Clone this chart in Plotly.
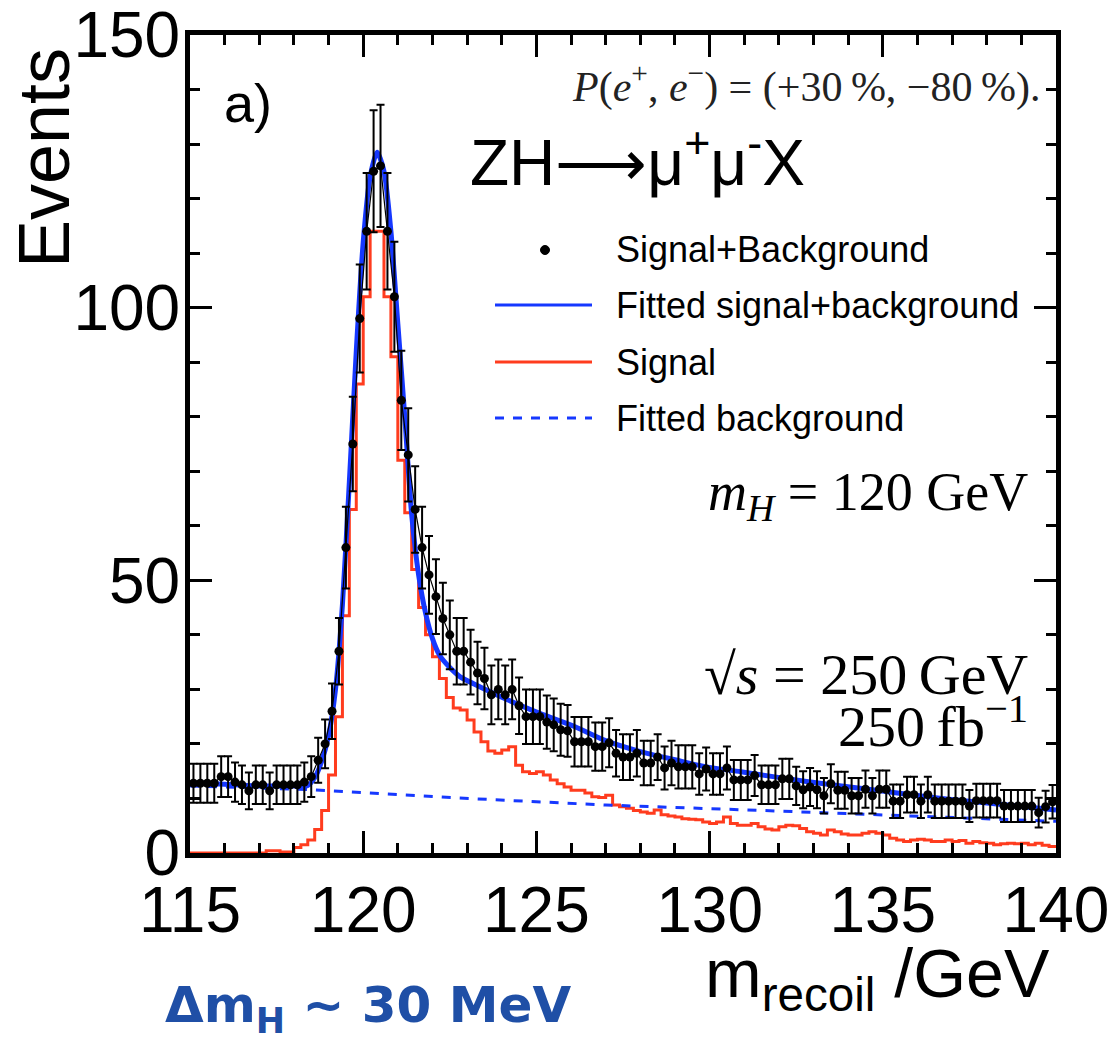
import numpy as np
import plotly.graph_objects as go

# ---------------- data ----------------
bin_low, bin_high, bin_width = 115.0, 140.0, 0.2

data_counts = [
    12.8, 12.8, 12.8, 12.8, 14.0, 14.0, 13.0, 12.5, 11.4, 12.5,
    12.5, 11.4, 12.5, 12.5, 12.5, 12.5, 13.0, 14.0, 17.0, 20.0,
    26.0, 37.0, 56.0, 75.0, 98.0, 114.0, 125.0, 126.0, 114.0, 102.0,
    83.0, 73.0, 63.0, 56.0, 51.0, 47.0, 43.0, 40.0, 37.0, 37.0,
    35.0, 33.0, 32.0, 29.0, 30.0, 29.0, 30.0, 27.0, 25.0, 25.0,
    25.0, 24.0, 23.5, 22.6, 22.4, 20.4, 20.4, 20.4, 19.5, 19.5,
    20.2, 18.3, 17.6, 17.6, 18.3, 16.5, 16.5, 17.6, 15.6, 16.5,
    15.8, 15.8, 15.8, 14.5, 15.4, 14.5, 14.5, 15.6, 13.4, 13.4,
    13.4, 14.2, 12.5, 12.5, 12.5, 13.6, 13.6, 12.3, 11.6, 12.1,
    11.6, 10.5, 12.7, 11.5, 11.5, 10.5, 10.5, 11.7, 10.5, 11.7,
    11.7, 9.5, 9.5, 10.7, 10.7, 9.5, 10.7, 9.5, 9.5, 9.5,
    9.5, 9.5, 8.6, 9.6, 9.6, 9.6, 9.6, 8.6, 8.6, 8.6,
    8.6, 8.6, 7.4, 8.5, 9.4,
]

signal_counts = [
    0, 0, 0, 0, 0, 0, 0, 0, 0, 0,
    0, 0.4, 0.4, 0.2, 0.2, 1.0, 1.5, 2.4, 4.3, 7.8,
    14.3, 25.0, 43.5, 63.0, 86.0, 102.0, 114.0, 114.0, 102.0, 91.0,
    72.0, 62.4, 52.0, 45.0, 40.0, 36.0, 32.0, 28.5, 26.6, 26.2,
    24.4, 22.2, 20.4, 18.7, 18.3, 18.9, 19.5, 16.1, 14.9, 14.6,
    14.9, 14.3, 13.4, 12.7, 12.1, 11.5, 11.5, 11.0, 10.3, 10.2,
    10.6, 8.8, 8.5, 8.2, 7.8, 7.5, 7.3, 7.9, 7.0, 6.8,
    6.6, 6.3, 6.2, 6.1, 5.7, 5.4, 5.7, 6.6, 5.4, 5.1,
    5.1, 5.4, 4.8, 4.4, 4.2, 4.8, 5.1, 5.0, 4.5, 3.9,
    3.6, 3.3, 4.2, 3.9, 3.5, 3.3, 3.3, 3.6, 3.9, 3.6,
    3.3, 2.7, 2.4, 2.1, 2.4, 2.5, 2.4, 2.1, 2.1, 2.4,
    2.1, 2.3, 1.8, 2.1, 1.9, 1.8, 1.5, 1.7, 1.8, 1.7,
    1.8, 1.5, 1.8, 1.4, 1.2,
]

fit_x = [115.0, 116.0, 117.0, 118.0, 118.4, 118.6, 118.8, 119.0, 119.2, 119.4,
         119.6, 119.8, 120.0, 120.2, 120.4, 120.6, 120.8, 121.0, 121.2, 121.4,
         121.6, 121.8, 122.0, 122.2, 122.5, 122.8, 123.2, 124.2, 125.1, 126.1,
         127.0, 128.0, 129.0, 129.9, 130.9, 132.8, 134.7, 136.7, 138.6, 140.0]
fit_y = [12.9, 12.6, 12.3, 12.3, 12.4, 13.8, 16.8, 21.5, 30.0, 45.5,
         68.0, 92.0, 112.0, 124.0, 128.5, 125.0, 114.0, 97.0, 80.0, 62.0,
         51.0, 44.0, 39.3, 36.3, 34.0, 32.3, 31.0, 28.0, 25.6, 23.2,
         20.6, 18.6, 17.1, 15.8, 14.9, 13.1, 11.6, 10.0, 8.8, 7.9]

bkg_x = [115.0, 118.5, 122.7, 127.0, 131.5, 135.5, 140.0]
bkg_y = [12.3, 11.6, 10.1, 8.8, 7.8, 6.8, 5.8]

x_tick_vals = [115, 120, 125, 130, 135, 140]
y_tick_vals = [0, 50, 100, 150]

# ---------------- derived ----------------
n_bins = int(round((bin_high - bin_low) / bin_width))
assert len(data_counts) == n_bins and len(signal_counts) == n_bins
edges = np.round(bin_low + bin_width * np.arange(n_bins + 1), 3)
centers = (edges[:-1] + edges[1:]) / 2
data_arr = np.array(data_counts)
data_err = np.sqrt(data_arr)

BLUE = "#1638ff"
RED = "#ff3c1e"

fig = go.Figure()

# signal histogram (step)
fig.add_trace(go.Scatter(
    x=list(edges), y=list(signal_counts) + [signal_counts[-1]],
    mode="lines", line=dict(color=RED, width=3, shape="hv"),
    showlegend=False, hoverinfo="skip"))

# fitted background
fig.add_trace(go.Scatter(
    x=bkg_x, y=bkg_y, mode="lines",
    line=dict(color=BLUE, width=3, dash="dash"),
    showlegend=False))

# fitted signal + background
fig.add_trace(go.Scatter(
    x=fit_x, y=fit_y, mode="lines",
    line=dict(color=BLUE, width=5, shape="spline", smoothing=0.7),
    showlegend=False))

# data points
fig.add_trace(go.Scatter(
    x=centers, y=data_arr, mode="lines+markers",
    line=dict(color="black", width=1.2),
    marker=dict(color="black", size=9),
    error_y=dict(type="data", array=data_err, color="black", thickness=2, width=4),
    showlegend=False))

# ---------------- layout ----------------
L, R, T, B = 190, 57, 35, 192
W, H = 1113, 1045
PW, PH = W - L - R, H - T - B


def px_x(p):
    return (p - L) / PW


def px_y(p):
    return (T + PH - p) / PH


TICKFONT = dict(family="Liberation Sans, Arial, sans-serif", size=64, color="black")

fig.update_layout(
    width=W, height=H,
    margin=dict(l=L, r=R, t=T, b=B, autoexpand=False),
    paper_bgcolor="white", plot_bgcolor="white",
    showlegend=False,
    xaxis=dict(range=[bin_low, bin_high], tickvals=x_tick_vals,
               ticktext=[str(v) for v in x_tick_vals],
               ticks="inside", ticklen=22, tickwidth=3, tickcolor="black",
               minor=dict(dtick=1, ticks="inside", ticklen=10, tickwidth=3, tickcolor="black"),
               showline=True, linewidth=5, linecolor="black", mirror="ticks",
               showgrid=False, zeroline=False, tickfont=TICKFONT,
               ticklabelstandoff=-3, ticklabeloverflow="allow", automargin=False),
    yaxis=dict(range=[0, 150], tickvals=y_tick_vals,
               ticktext=[str(v) for v in y_tick_vals],
               ticks="inside", ticklen=22, tickwidth=3, tickcolor="black",
               minor=dict(dtick=10, ticks="inside", ticklen=10, tickwidth=3, tickcolor="black"),
               showline=True, linewidth=5, linecolor="black", mirror="ticks",
               showgrid=False, zeroline=False, tickfont=TICKFONT,
               ticklabelstandoff=-8, ticklabeloverflow="allow", automargin=False),
)

SANS = "Liberation Sans, Arial, sans-serif"
SERIF = "Liberation Serif, DejaVu Serif, serif"

ann = []
# axis titles
ann.append(dict(text="Events", x=px_x(44), y=px_y(158), xref="paper", yref="paper",
                textangle=-90, showarrow=False, xanchor="center", yanchor="middle",
                font=dict(family=SANS, size=72, color="black")))
ann.append(dict(text="m<sub>recoil</sub> /GeV", x=px_x(1052), y=px_y(978), xref="paper", yref="paper",
                showarrow=False, xanchor="right", yanchor="middle",
                font=dict(family=SANS, size=68, color="black")))
# in-plot labels
ann.append(dict(text="a)", x=px_x(222), y=px_y(103), xref="paper", yref="paper",
                showarrow=False, xanchor="left", yanchor="middle",
                font=dict(family=SANS, size=54, color="black")))
ann.append(dict(text="<i>P</i>(<i>e</i><sup>+</sup>, <i>e</i><sup>\u2212</sup>) = (+30\u2009%, \u221280\u2009%).",
                x=px_x(1042), y=px_y(84), xref="paper", yref="paper",
                showarrow=False, xanchor="right", yanchor="middle",
                font=dict(family=SERIF, size=42, color="#222222")))
ann.append(dict(text="ZH\u27f6\u03bc<sup>+</sup>\u03bc<sup>-</sup>X", x=px_x(468), y=px_y(158),
                xref="paper", yref="paper", showarrow=False, xanchor="left", yanchor="middle",
                font=dict(family=SANS, size=64, color="black")))
ann.append(dict(text="<i>m<sub>H</sub></i> = 120 GeV", x=px_x(1030), y=px_y(495),
                xref="paper", yref="paper", showarrow=False, xanchor="right", yanchor="middle",
                font=dict(family=SERIF, size=54, color="black")))
ann.append(dict(text="\u221a<i>s</i> = 250\u2009GeV", x=px_x(1030), y=px_y(674),
                xref="paper", yref="paper", showarrow=False, xanchor="right", yanchor="middle",
                font=dict(family=SERIF, size=58, color="black")))
ann.append(dict(text="250\u2009fb<sup>\u22121</sup>", x=px_x(1030), y=px_y(722),
                xref="paper", yref="paper", showarrow=False, xanchor="right", yanchor="middle",
                font=dict(family=SERIF, size=58, color="black")))
ann.append(dict(text="<b>\u0394m<sub>H</sub> ~ 30 MeV</b>", x=px_x(163), y=px_y(1008),
                xref="paper", yref="paper", showarrow=False, xanchor="left", yanchor="middle",
                font=dict(family="DejaVu Sans, sans-serif", size=50, color="#1f4fa6")))

# legend (drawn manually)
legend_rows = [("Signal+Background", 250), ("Fitted signal+background", 305),
               ("Signal", 362), ("Fitted background", 418)]
for label, ypx in legend_rows:
    ann.append(dict(text=label, x=px_x(614), y=px_y(ypx), xref="paper", yref="paper",
                    showarrow=False, xanchor="left", yanchor="middle",
                    font=dict(family=SANS, size=36, color="black")))

shapes = [
    dict(type="circle", xref="paper", yref="paper", xsizemode="pixel", ysizemode="pixel",
         xanchor=px_x(545), yanchor=px_y(250), x0=-4.5, x1=4.5, y0=-4.5, y1=4.5,
         fillcolor="black", line=dict(color="black", width=1)),
    dict(type="line", xref="paper", yref="paper", x0=px_x(495), x1=px_x(592),
         y0=px_y(305), y1=px_y(305), line=dict(color=BLUE, width=3)),
    dict(type="line", xref="paper", yref="paper", x0=px_x(495), x1=px_x(592),
         y0=px_y(362), y1=px_y(362), line=dict(color=RED, width=3)),
    dict(type="line", xref="paper", yref="paper", x0=px_x(495), x1=px_x(592),
         y0=px_y(418), y1=px_y(418), line=dict(color=BLUE, width=3, dash="dash")),
]

fig.update_layout(annotations=ann, shapes=shapes)
fig.write_html("out.html")
